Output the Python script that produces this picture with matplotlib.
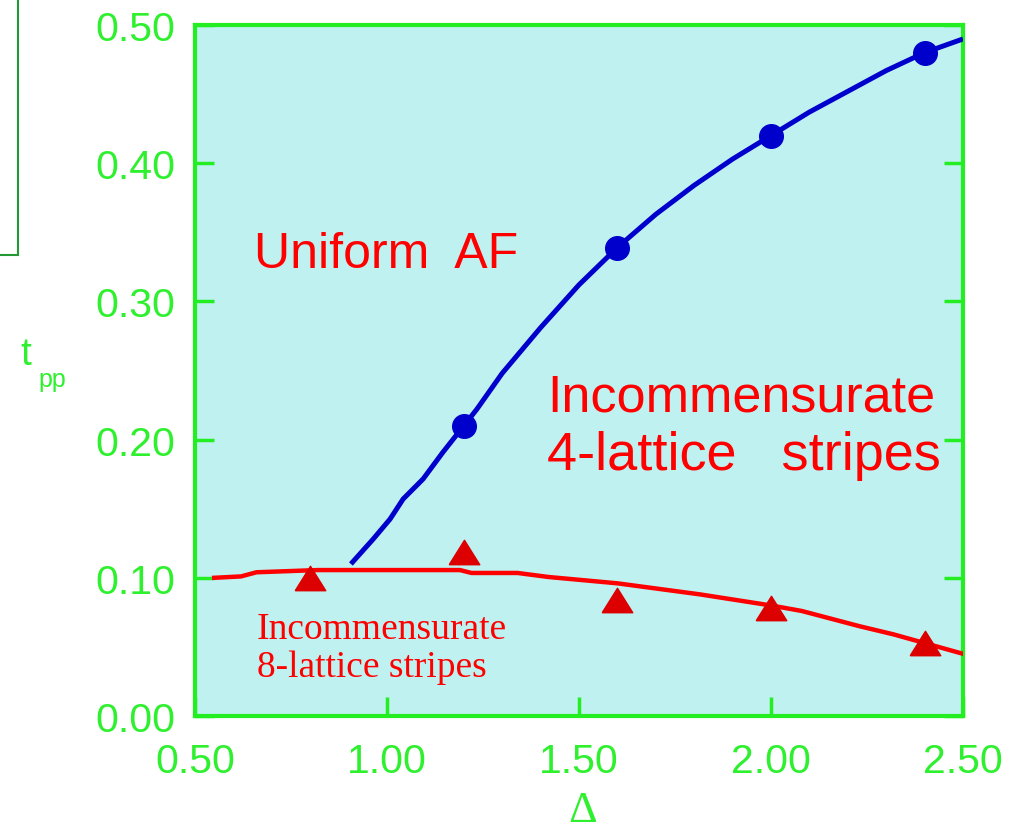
import matplotlib
matplotlib.use("Agg")
import matplotlib.pyplot as plt
from matplotlib.patches import Rectangle

# ---- data ----
af_delta = [1.2, 1.6, 2.0, 2.4]
af_tpp = [0.21, 0.339, 0.42, 0.48]

af_curve_delta = [0.906, 0.964, 1.008, 1.042, 1.094, 1.146, 1.2, 1.234, 1.3, 1.4, 1.5,
                  1.6, 1.7, 1.8, 1.9, 2.0, 2.1, 2.2, 2.3, 2.4, 2.5]
af_curve_tpp = [0.110, 0.128, 0.1425, 0.157, 0.1715, 0.191, 0.21, 0.222, 0.248, 0.281, 0.312,
                0.339, 0.363, 0.384, 0.403, 0.42, 0.437, 0.452, 0.467, 0.48, 0.4899]

stripe_delta = [0.8, 1.2, 1.6, 2.0, 2.4]
stripe_tpp = [0.0995, 0.119, 0.084, 0.078, 0.053]

stripe_curve_delta = [0.55, 0.62, 0.66, 0.82, 1.19, 1.22, 1.34, 1.42, 1.6, 1.815, 2.0,
                      2.08, 2.23, 2.32, 2.5]
stripe_curve_tpp = [0.100, 0.101, 0.104, 0.1056, 0.1056, 0.1035, 0.1035, 0.1006, 0.096,
                    0.088, 0.080, 0.076, 0.065, 0.059, 0.045]

x_ticks = [0.5, 1.0, 1.5, 2.0, 2.5]
y_ticks = [0.0, 0.1, 0.2, 0.3, 0.4, 0.5]

GREEN = '#2EF02E'
SPINE = '#22EE22'
BG = '#C0F1F1'
RED = '#FF0000'
DARKRED = '#DD0000'
BLUE = '#0000CC'

plt.rcParams['font.family'] = ['Liberation Sans', 'DejaVu Sans']

fig = plt.figure(figsize=(10.19, 8.29), dpi=100)
ax = fig.add_axes([195/1019, 1-717/829, (963-195)/1019, (717-26)/829])
ax.set_facecolor(BG)

ax.plot(af_curve_delta, af_curve_tpp, color=BLUE, lw=3.6, solid_capstyle='butt', zorder=3)
ax.plot(af_delta, af_tpp, 'o', color=BLUE, ms=17, zorder=4)

ax.plot(stripe_curve_delta, stripe_curve_tpp, color=RED, lw=3.2, zorder=3)
tri = [(-1, -0.8), (0, 0.8), (1, -0.8), (-1, -0.8)]
ax.plot(stripe_delta, stripe_tpp, linestyle='none', marker=tri, color=DARKRED, ms=22, zorder=4)

ax.set_xlim(0.5, 2.5)
ax.set_ylim(0.0, 0.5)
ax.set_xticks(x_ticks)
ax.set_yticks(y_ticks)
ax.set_xticklabels([f"{v:.2f}" for v in x_ticks])
ax.set_yticklabels([f"{v:.2f}" for v in y_ticks])
ax.tick_params(axis='both', direction='in', length=14, width=2.5, color=SPINE,
               labelcolor=GREEN, labelsize=29.5)
ax.tick_params(axis='y', right=True, pad=14)
ax.tick_params(axis='x', pad=19)
for s in ax.spines.values():
    s.set_color(SPINE)
    s.set_linewidth(3)

ax.text(0.654, 0.325, 'Uniform  AF', color=RED, fontsize=36, va='baseline', ha='left')
ax.text(1.417, 0.2207, 'Incommensurate', color=RED, fontsize=37.5, va='baseline', ha='left')
ax.text(1.417, 0.1787, '4-lattice   stripes', color=RED, fontsize=39, va='baseline', ha='left')
ax.text(0.661, 0.0564, 'Incommensurate', color=RED, fontsize=27, va='baseline', ha='left',
        family=['Liberation Serif', 'DejaVu Serif'])
ax.text(0.661, 0.0289, '8-lattice stripes', color=RED, fontsize=27, va='baseline', ha='left',
        family=['Liberation Serif', 'DejaVu Serif'])

# axis labels
fig.text(583/1019, 1-822/829, '\u0394', color=GREEN, fontsize=32, ha='center', va='baseline',
         family=['Liberation Serif', 'DejaVu Serif'])
fig.text(20/1019, 1-365/829, 't', color=GREEN, fontsize=28, ha='left', va='baseline')
fig.text(38/1019, 1-387/829, 'pp', color=GREEN, fontsize=18, ha='left', va='baseline')

# partial frame at top-left
fig.patches.append(Rectangle((-0.05, 1-256/829), 0.05+18/1019, 0.6, transform=fig.transFigure,
                             fill=False, edgecolor='#229933', lw=1.5))

fig.savefig('out.png', dpi=100)
